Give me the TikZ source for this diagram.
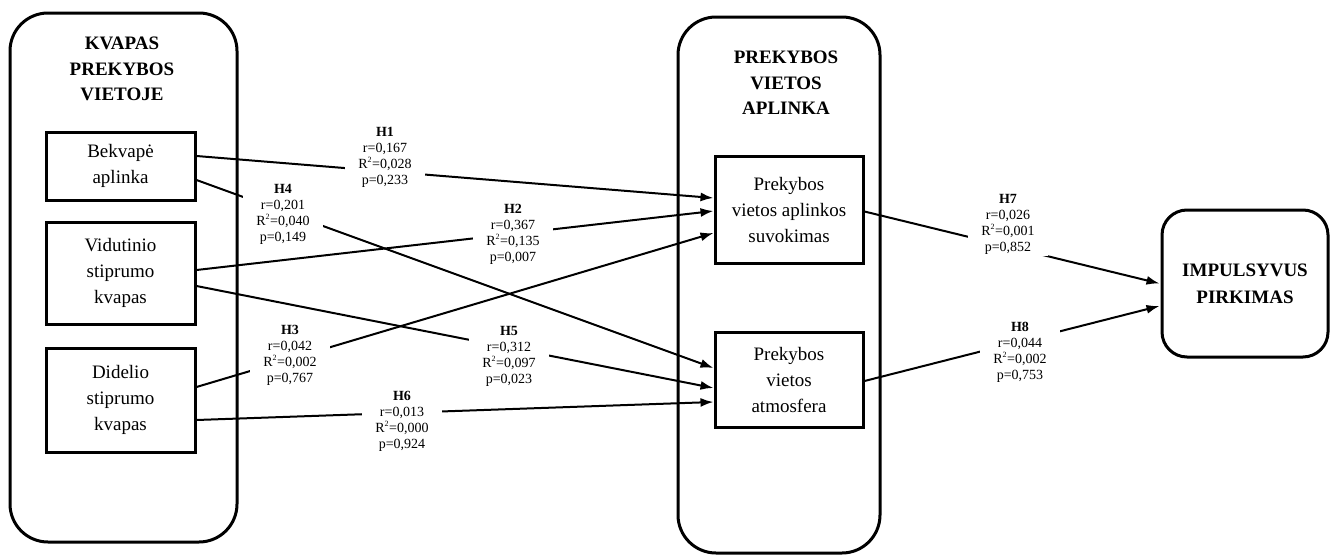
\documentclass[tikz,border=0pt]{standalone}
\usepackage{fontspec}
\setmainfont{Liberation Serif}
\usetikzlibrary{arrows.meta}
\newcommand{\sqd}{\textsuperscript{\fontsize{8}{8}\selectfont 2}}
\begin{document}
\begin{tikzpicture}[x=1pt,y=-1pt,
  panel/.style={draw,line width=3pt,rounded corners=38pt,inner sep=0pt},
  box/.style={draw,line width=3pt,align=center,inner sep=0pt,font=\fontsize{19}{26}\selectfont},
  ttl/.style={align=center,font=\fontsize{19}{25.5}\selectfont\bfseries},
  conn/.style={line width=2pt,-{Latex[length=13pt,width=9pt]}},
  lbl/.style={fill=white,align=center,inner xsep=13pt,inner ysep=2pt,font=\fontsize{14}{16}\selectfont}]
\useasboundingbox (0,0) rectangle (1330,554);
% panels
\node[panel,minimum width=227pt,minimum height=529pt] (pl) at (123.5,277.5) {};
\node[panel,minimum width=202pt,minimum height=536pt] (pm) at (779,285) {};
\node[ttl] (tl) at (122,69) {KVAPAS\\PREKYBOS\\VIETOJE};
\node[ttl] (tm) at (786,83) {PREKYBOS\\VIETOS\\APLINKA};
% left boxes
\node[box,minimum width=149pt,minimum height=68pt] (b1) at (120.5,166) {Bekvapė\\aplinka};
\node[box,minimum width=149pt,minimum height=102pt] (b2) at (120.5,273) {Vidutinio\\stiprumo\\kvapas};
\node[box,minimum width=149pt,minimum height=104pt] (b3) at (120.5,400) {Didelio\\stiprumo\\kvapas};
% middle boxes
\node[box,minimum width=148pt,minimum height=107pt] (m1) at (789,209.5) {Prekybos\\vietos aplinkos\\suvokimas};
\node[box,minimum width=148pt,minimum height=95pt] (m2) at (789,379.5) {Prekybos\\vietos\\atmosfera};
% right box
\node[box,rounded corners=25pt,minimum width=166pt,minimum height=147pt,font=\fontsize{19}{27}\selectfont\bfseries] (r) at (1245,283.5) {IMPULSYVUS\\PIRKIMAS};
% connectors
\draw[conn] ([yshift=10pt]b1.east) -- ([yshift=11.5pt]m1.west);
\draw[conn] ([yshift=3pt]b2.east) -- ([yshift=-1.5pt]m1.west);
\draw[conn] ([yshift=13pt]b3.east) -- ([yshift=-23.5pt]m1.west);
\draw[conn] ([yshift=-14pt]b1.east) -- ([yshift=11.5pt]m2.west);
\draw[conn] ([yshift=-13pt]b2.east) -- ([yshift=-8.5pt]m2.west);
\draw[conn] ([yshift=-20pt]b3.east) -- ([yshift=-22.5pt]m2.west);
\draw[conn] ([yshift=-2pt]m1.east) -- ([xshift=-1pt]r.west);
\draw[conn] ([yshift=-1.5pt]m2.east) -- ([xshift=-1pt,yshift=-22.5pt]r.west);
% labels
\node[lbl] (h1) at (385,157) {\textbf{H1}\\r=0,167\\R\sqd=0,028\\p=0,233};
\node[lbl] (h4) at (283,214) {\textbf{H4}\\r=0,201\\R\sqd=0,040\\p=0,149};
\node[lbl] (h2) at (513,234) {\textbf{H2}\\r=0,367\\R\sqd=0,135\\p=0,007};
\node[lbl] (h3) at (290,355) {\textbf{H3}\\r=0,042\\R\sqd=0,002\\p=0,767};
\node[lbl] (h5) at (509,356) {\textbf{H5}\\r=0,312\\R\sqd=0,097\\p=0,023};
\node[lbl] (h6) at (402,421) {\textbf{H6}\\r=0,013\\R\sqd=0,000\\p=0,924};
\node[lbl] (h7) at (1008,224) {\textbf{H7}\\r=0,026\\R\sqd=0,001\\p=0,852};
\node[lbl] (h8) at (1020,352) {\textbf{H8}\\r=0,044\\R\sqd=0,002\\p=0,753};
\end{tikzpicture}
\end{document}
